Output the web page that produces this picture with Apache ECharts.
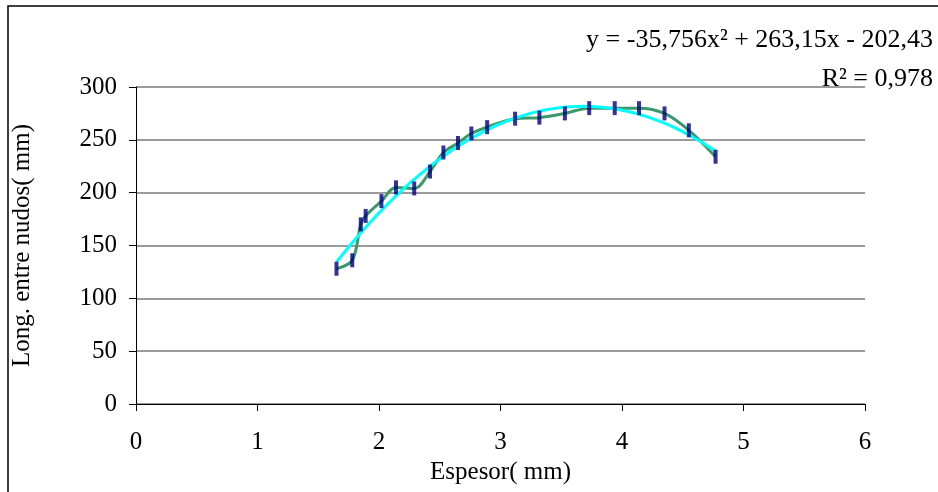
<!DOCTYPE html>
<html>
<head>
<meta charset="utf-8">
<script src="https://cdn.jsdelivr.net/npm/echarts@6/dist/echarts.min.js"></script>
<style>
  html, body { margin: 0; padding: 0; background: #fff; }
  #chart { width: 938px; height: 492px; }
</style>
</head>
<body>
<div id="chart"></div>
<script>
// datos
var espesor = [1.65, 1.78, 1.85, 1.89, 2.02, 2.14, 2.29, 2.42, 2.53, 2.65, 2.76, 2.89, 3.12, 3.32, 3.53, 3.73, 3.94, 4.14, 4.35, 4.55, 4.77]
var longitud = [128, 136, 170, 178, 192, 205, 204, 220, 238, 247, 256, 262, 270, 271, 275, 280, 280, 280, 275, 259, 234]

// linea de tendencia polinomica (coeficientes de la ecuacion mostrada)
var trendCoef = [-35.756, 263.15, -202.43]
var trendText = 'y = -35,756x² + 263,15x - 202,43'
var r2Text = 'R² = 0,978'

var xTicks = [0, 1, 2, 3, 4, 5, 6]
var yTicks = [0, 50, 100, 150, 200, 250, 300]

var FONT = "'Liberation Serif', 'Times New Roman', serif"
var FS = 25

var puntos = espesor.map(function (x, i) {
  return [x, longitud[i]]
})

// curva de tendencia evaluada sobre el rango de los datos
var tendencia = []
var x0 = espesor[0]
var x1 = espesor[espesor.length - 1]
var n = 60
for (var i = 0; i <= n; i++) {
  var x = x0 + (x1 - x0) * i / n
  tendencia.push([x, trendCoef[0] * x * x + trendCoef[1] * x + trendCoef[2]])
}

var chart = echarts.init(document.getElementById('chart'), null, { renderer: 'canvas' })

var option = {
  backgroundColor: '#ffffff',
  animation: false,
  textStyle: { fontFamily: FONT },
  grid: { left: 136, right: 73, top: 87, bottom: 88 },
  xAxis: {
    type: 'value',
    min: xTicks[0],
    max: xTicks[xTicks.length - 1],
    interval: 1,
    name: 'Espesor( mm)',
    nameLocation: 'middle',
    nameGap: 50,
    nameTextStyle: { color: '#000', fontSize: FS, fontFamily: FONT },
    axisLine: { show: true, lineStyle: { color: '#000', width: 1 } },
    axisTick: { show: true, length: 7, lineStyle: { color: '#000' } },
    axisLabel: { color: '#000', fontSize: FS, fontFamily: FONT, margin: 26 },
    splitLine: { show: false }
  },
  yAxis: {
    type: 'value',
    min: yTicks[0],
    max: yTicks[yTicks.length - 1],
    interval: 50,
    name: 'Long. entre nudos( mm)',
    nameLocation: 'middle',
    nameGap: 101,
    nameTextStyle: { color: '#000', fontSize: FS, fontFamily: FONT },
    axisLine: { show: true, lineStyle: { color: '#000', width: 1 } },
    axisTick: { show: true, length: 7, lineStyle: { color: '#000' } },
    axisLabel: { color: '#000', fontSize: FS, fontFamily: FONT, margin: 19 },
    splitLine: { show: true, lineStyle: { color: '#7a7a7a', width: 1.5 } }
  },
  series: [
    {
      name: 'Longitud',
      type: 'line',
      data: puntos,
      smooth: 0.35,
      showSymbol: false,
      lineStyle: { color: '#3a9a6a', width: 3 },
      z: 2
    },
    {
      name: 'Tendencia',
      type: 'line',
      data: tendencia,
      smooth: true,
      showSymbol: false,
      lineStyle: { color: '#00ffff', width: 3 },
      z: 3
    },
    {
      name: 'Puntos',
      type: 'scatter',
      data: puntos,
      symbol: 'rect',
      symbolSize: [4, 14],
      itemStyle: { color: '#000080' },
      z: 4
    }
  ],
  graphic: [
    {
      type: 'rect',
      shape: { x: 8, y: 6, width: 1000, height: 600 },
      style: { fill: 'none', stroke: '#000', lineWidth: 1.5 },
      silent: true,
      z: 0
    },
    {
      type: 'text',
      right: 5,
      top: 27,
      style: { text: trendText, fill: '#000', font: '26px ' + FONT, textAlign: 'right' },
      z: 10
    },
    {
      type: 'text',
      right: 5,
      top: 66,
      style: { text: r2Text, fill: '#000', font: '26px ' + FONT, textAlign: 'right' },
      z: 10
    }
  ]
}

chart.setOption(option)
</script>
</body>
</html>
